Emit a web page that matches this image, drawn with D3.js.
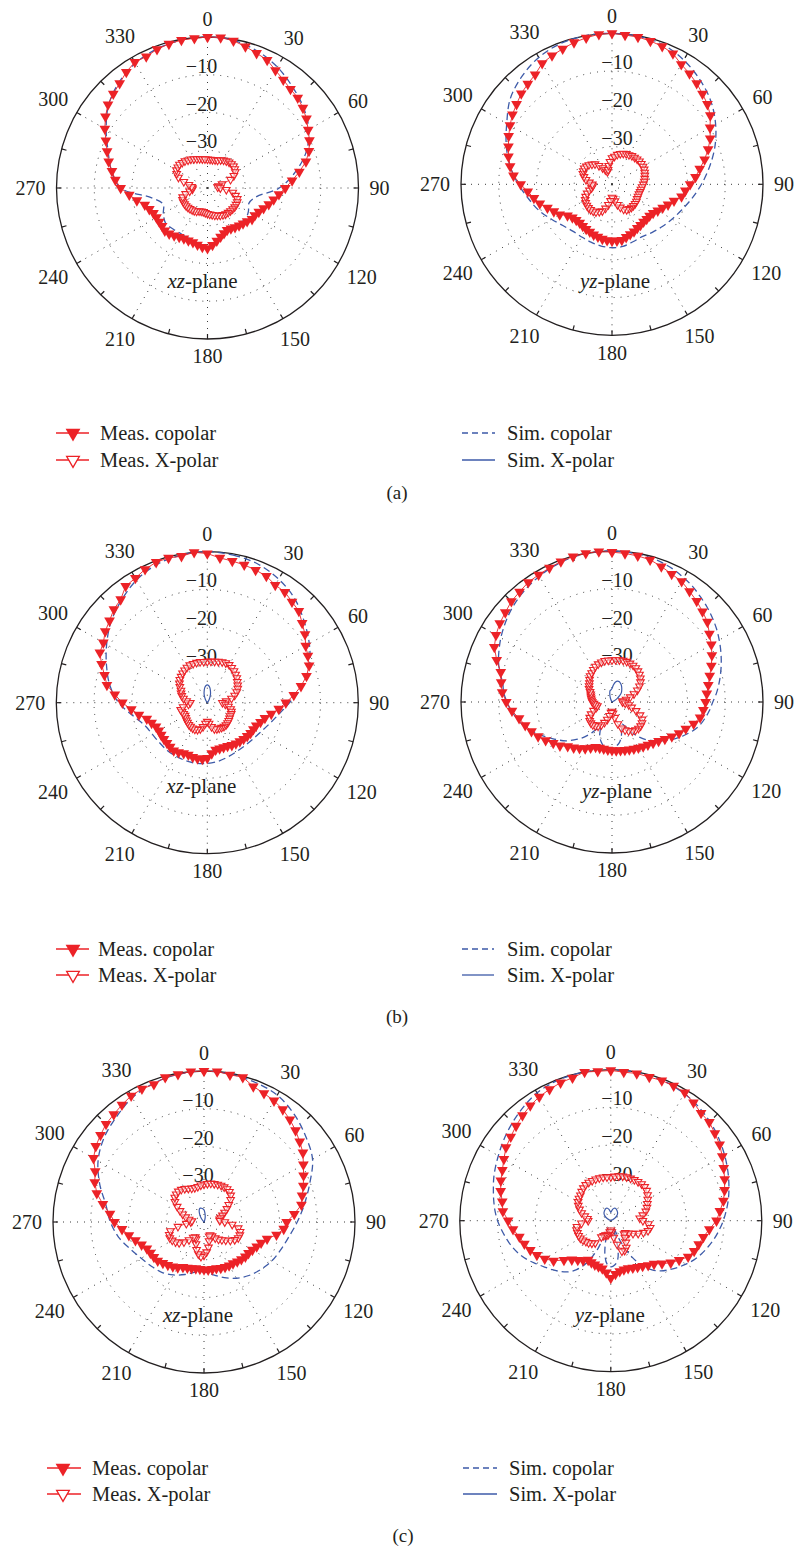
<!DOCTYPE html>
<html>
<head>
<meta charset="utf-8">
<script src="https://cdn.jsdelivr.net/npm/d3@7"></script>
<style>
  html, body { margin: 0; padding: 0; background: #fff; }
  svg { display: block; }
  text { font-family: "Liberation Serif", "Times New Roman", serif; fill: #231f20; }
</style>
</head>
<body>
<svg id="fig" width="795" height="1551"></svg>
<script>
// ---- angular grids (degrees, clockwise from top) ----
const deg5 = [0,5,10,15,20,25,30,35,40,45,50,55,60,65,70,75,80,85,90,95,100,105,110,115,
  120,125,130,135,140,145,150,155,160,165,170,175,180,185,190,195,200,205,210,215,220,225,230,235,
  240,245,250,255,260,265,270,275,280,285,290,295,300,305,310,315,320,325,330,335,340,345,350,355];
const deg10 = [0,10,20,30,40,50,60,70,80,90,100,110,120,130,140,150,160,170,
  180,190,200,210,220,230,240,250,260,270,280,290,300,310,320,330,340,350];
const angleLabels = [0,30,60,90,120,150,180,210,240,270,300,330];
const tickAngles = [0,15,30,45,60,75,90,105,120,135,150,165,180,195,210,225,240,255,270,285,300,315,330,345];
const ringLevels = [-10, -20, -30];
const dbDomain = [-40, 0];

// ---- (a) xz-plane ----
const aXzCo = [
  0,0,-0.4,-1.2,-2,-2.6,-4,-5,-5.8,-6.2,-7,-8,
  -9.2,-10.2,-11.4,-13,-15.3,-17.5,-19.4,-21,-22.2,-23.2,-24.2,-25,
  -25.5,-25.6,-26.3,-26.7,-27,-27.3,-27.6,-27.7,-27.2,-26.6,-25.8,-24.8,
  -24,-24.3,-24.7,-25.1,-25.2,-25.2,-25,-24.6,-24.2,-24,-24.3,-24.4,
  -24.4,-24.2,-23.6,-22.8,-21,-19.2,-17,-15.5,-14.3,-12.9,-11.7,-10.3,
  -8.6,-7,-5.6,-4.7,-3.8,-2.5,-1.5,-1.6,-0.9,-0.5,-0.2,-0.2];
const aXzX = [
  -32.4,-32.4,-32.4,-32.3,-32.2,-31.8,-31.5,-31.3,-31.1,-31,-31,-31.2,
  -31.5,-32.3,-33.5,-36,-37,-37.3,-36.6,-35,-33.2,-32.3,-31.6,-31.3,
  -31.2,-31.2,-31.3,-31.4,-31.5,-31.6,-31.8,-32,-32.3,-32.5,-32.8,-33,
  -33.2,-33.4,-33.6,-33.6,-33.5,-33.2,-33,-32.9,-32.8,-32.7,-32.6,-32.6,
  -32.6,-32.7,-33,-34,-35.2,-36,-36,-35.8,-35,-33.5,-31.8,-31,
  -30.5,-30.4,-30.3,-30.5,-30.7,-31,-31.2,-31.5,-31.8,-32,-32.2,-32.3];
const aXzSimCo = [
  0,-0.3,-1.4,-3,-5,-6.8,
  -9,-12.2,-16.5,-21,-26.8,-28.3,
  -27.5,-27,-27.6,-27.8,-27,-25.5,
  -23.6,-24.5,-25.8,-26,-25.8,-25.5,
  -26.5,-27.5,-25,-17,-14.2,-12,
  -9,-5.8,-3.5,-1.8,-0.8,-0.2];

// ---- (a) yz-plane ----
const aYzCo = [
  0,-0.3,-0.4,-0.7,-1.1,-1.8,-3.3,-4.2,-5.1,-6.1,-7,-8.2,
  -10,-11.3,-12.9,-14.6,-16.4,-17.8,-19.3,-20.5,-21.3,-23,-24.2,-25.2,
  -26,-26.7,-27,-27,-27,-26.8,-26.6,-26.2,-25.9,-25.5,-25,-25,
  -25,-25.1,-25.3,-25.6,-25.8,-26.1,-26.3,-26.5,-26.7,-26.6,-26.3,-25.6,
  -24,-23,-21.8,-20.2,-19,-17.6,-15.8,-13.8,-12.6,-11.6,-10.8,-9.8,
  -8.8,-7.8,-7,-6,-5.3,-4.5,-3,-2.4,-1.8,-1.1,-0.6,-0.1];
const aYzX = [
  -33,-32.6,-32,-31.6,-31.3,-31.1,-31,-30.8,-30.7,-30.6,-30.5,-30.5,
  -30.5,-30.6,-30.8,-31,-31.2,-31.4,-31.7,-32,-32.2,-32.3,-32.4,-32.4,
  -32.3,-32.1,-32,-32,-32,-32.1,-32.2,-32.7,-33.5,-34.4,-35.5,-36.2,
  -36.5,-35.6,-34.5,-33.4,-32.5,-32,-31.5,-31.3,-31.2,-31.2,-31.3,-31.5,
  -31.8,-32.3,-33,-33.8,-34.5,-34.9,-34.8,-34,-33,-32.3,-31.8,-31.6,
  -31.5,-31.7,-32,-32.5,-33,-34,-35,-35.8,-36.5,-36,-35,-34];
const aYzSimCo = [
  0,-0.2,-0.6,-2,-3.8,-5.8,
  -8.3,-11,-13.8,-16.3,-18.5,-20.3,
  -21.6,-22.6,-23.4,-24,-23.8,-23.3,
  -23.2,-23.4,-23.7,-23.9,-23.8,-23,
  -21.5,-19.5,-17.6,-15.2,-12.6,-10.2,
  -7.8,-4.8,-2.8,-1.2,-0.3,0];

// ---- (b) xz-plane ----
const bXzCo = [
  -0.5,-1.5,-1.9,-2.2,-2.6,-3,-4,-4.2,-5.1,-5.7,-7.2,-8.4,
  -9.9,-10.6,-11.3,-12.8,-14.8,-17,-19.2,-21,-22.8,-24.2,-25,-25.7,
  -25.9,-26,-26.2,-26.4,-26.6,-26.8,-27,-27.3,-27.4,-27.4,-27.3,-26.5,
  -25.3,-25,-25,-25.1,-25.3,-25.2,-24.8,-24.5,-24.7,-24.9,-25,-25.1,
  -25.2,-25,-24.3,-23.4,-21.6,-19.8,-17.5,-15.4,-13,-11.8,-10.2,-8.6,
  -8.2,-7,-6.2,-5,-4.3,-2.3,-1.9,-1,-0.4,-0.3,-0.6,0];
const bXzX = [
  -29.1,-29,-28.9,-28.7,-28.5,-28.4,-28.4,-28.7,-29,-29.4,-29.8,-30.3,
  -30.7,-31.1,-31.7,-32.5,-33.5,-35,-36,-35.2,-34.3,-33.6,-33.2,-33,
  -33,-32.8,-32.6,-32.4,-32.3,-32.3,-32.4,-32.5,-32.6,-32.8,-33.5,-34.5,
  -35,-34.5,-33.5,-32.8,-32.4,-32.2,-32.2,-32.3,-32.4,-32.6,-32.8,-33,
  -33.2,-33.1,-32.9,-32.7,-33.5,-35,-35.5,-34.5,-33.6,-33,-32.6,-32.3,
  -31.6,-31,-30.5,-30.2,-29.8,-29.5,-29.2,-29,-29,-29,-29,-29.1];
const bXzSimCo = [
  0,-0.3,-0.9,-2.2,-4,-6.5,
  -8.8,-11.2,-14.3,-18.2,-21,-22.8,
  -24,-24.6,-24.9,-24.9,-24.6,-24.2,
  -23.9,-23.7,-23.6,-23.6,-23.5,-23.5,
  -23.2,-22.4,-20,-16.5,-13.8,-11.6,
  -9.2,-6.7,-4.6,-2.5,-1,-0.3];
const bXzSimX = [
  -35.3,-35.5,-36,-36.8,-37.5,-38.3,-39,-39.6,-40,-40,-40,-40,
  -40,-40,-40,-40,-40,-40,-40,-40,-40,-40,-40,-40,
  -40,-40,-40,-40,-40,-40,-40,-40,-40,-40,-40,-40,
  -40,-40,-40,-40,-40,-40,-40,-40,-40,-40,-40,-40,
  -40,-40,-40,-40,-40,-40,-40,-40,-40,-40,-40,-40,
  -40,-40,-40,-40,-40,-39.6,-39,-38.3,-37.5,-36.8,-36,-35.5];

// ---- (b) yz-plane ----
const bYzCo = [
  -0.3,-0.5,-0.7,-1,-1.8,-2.6,-3.1,-4.2,-5.1,-6.1,-7,-8.5,
  -9.6,-10.8,-12,-13.2,-14.1,-14.8,-15.2,-15.7,-16.3,-17.6,-19.2,-20.4,
  -21.7,-22.9,-23.9,-24.6,-25.2,-25.6,-26,-26.3,-26.6,-26.8,-27,-27.1,
  -27.2,-27.3,-27.4,-27.4,-27.3,-26.6,-25.8,-25,-24.2,-23.4,-22,-21,
  -19.7,-18.4,-17.3,-16.2,-15,-13.4,-12,-10.8,-10.2,-9.5,-7.5,-5.6,
  -4.5,-3.7,-3.1,-2.3,-1.9,-1.3,-1.1,-0.8,-0.4,-0.1,0,0];
const bYzX = [
  -28.9,-28.8,-28.7,-28.6,-28.6,-28.7,-28.8,-29,-29.3,-29.7,-30.2,-30.8,
  -31.6,-32.6,-33.8,-35,-36.2,-37,-37.2,-36.5,-35.5,-34.6,-33.2,-31.8,
  -30.8,-30.3,-30.1,-30.1,-30.3,-30.6,-31.2,-31.8,-32.6,-34,-35.8,-37,
  -37.5,-37.2,-36.3,-35.2,-34.2,-33.3,-32.6,-32.3,-32.1,-32.1,-32.3,-32.8,
  -33.6,-34.6,-35.5,-36,-35.6,-35.2,-34.8,-34.6,-34.4,-34.2,-34,-33.6,
  -33,-32.6,-32.2,-31.6,-31,-30.6,-30.1,-29.6,-29.3,-29.1,-28.9,-28.9];
const bYzSimCo = [
  0,-0.1,-0.2,-0.4,-0.8,-1.3,-2,-2.7,-3.6,-4.4,-5.3,-6.2,
  -7.2,-8.2,-9.2,-10.2,-11.2,-12.2,-13.3,-14.1,-15,-16,-17.4,-19,
  -20.6,-22.3,-24,-25.6,-27.3,-29.4,-31.5,-33.5,-32.5,-30.5,-29,-28.2,
  -27.8,-27.8,-28,-29,-30.5,-32.5,-31.5,-29.5,-27.5,-25.8,-24,-22.5,
  -21,-19.2,-17.5,-15.8,-14.5,-13.2,-12.2,-11.2,-10.6,-9.2,-8,-7,
  -6,-5.1,-4.2,-3.4,-2.7,-2.1,-1.5,-1,-0.6,-0.3,-0.1,0];
const bYzSimX = [
  -36.4,-35.4,-34.6,-34.3,-34.3,-34.6,-35,-35.5,-36,-36.5,-37.3,-38.3,
  -39.3,-40,-40,-40,-40,-40,-40,-40,-40,-40,-40,-40,
  -40,-40,-40,-40,-40,-40,-40,-40,-40,-40,-40,-40,
  -40,-40,-40,-40,-40,-40,-40,-40,-40,-40,-40,-40,
  -40,-40,-40,-40,-40,-40,-40,-40,-40,-40,-40,-40,
  -40,-40,-40,-40,-40,-40,-40,-39.2,-38.5,-37.7,-37,-36.8];

// ---- (c) xz-plane ----
const cXzCo = [
  0,0,-0.4,-0.3,-1.8,-2.4,-2.9,-3.6,-4.6,-5.7,-6.9,-8,
  -9.6,-10.9,-12,-13.1,-13.8,-16,-18.1,-18.8,-20.5,-22.7,-23.9,-24.6,
  -25.2,-25.6,-25.7,-26,-26.3,-26.6,-26.7,-26.8,-27,-27.3,-27.3,-27.3,
  -27.4,-27.5,-27.5,-27.3,-27.1,-26.8,-26.1,-25.6,-25.1,-24.6,-24,-23.8,
  -23.6,-23.3,-22.4,-21.2,-19.8,-18.2,-16.3,-15,-12.8,-10.6,-9.2,-8.2,
  -6.2,-5,-4.2,-3.3,-2.8,-2.1,-1.4,-1.1,-1.2,-0.3,-0.3,0];
const cXzX = [
  -30,-29.8,-29.6,-29.5,-29.4,-29.3,-29.3,-29.3,-29.5,-30,-30.8,-32,
  -33,-34,-34.8,-35.4,-35.8,-35.8,-34.5,-32.5,-30.8,-30.1,-29.9,-30,
  -30.6,-31.5,-32.5,-33.3,-34,-34.8,-35.7,-36.2,-36,-34.8,-33.2,-32,
  -31.2,-30.8,-31.4,-32.4,-33.8,-35,-35.4,-35,-33.8,-32.5,-31.4,-30.8,
  -30.3,-30,-30.2,-30.8,-33,-35.3,-36.5,-36.8,-36,-35,-34,-33,
  -31.8,-30.6,-29.9,-29.6,-29.4,-29.5,-29.8,-30.2,-30.5,-30.6,-30.5,-30.2];
const cXzSimCo = [
  0,-0.2,-0.6,-1.2,-2.8,-4.8,
  -6.8,-10.2,-13,-15.3,-17.2,-18.4,
  -19.3,-20.4,-21.5,-22.8,-24.3,-25.8,
  -26.8,-26.5,-25.2,-23.8,-22.6,-21.8,
  -20.8,-19.2,-17,-15.2,-13.6,-10.6,
  -7.6,-5.4,-3.8,-2,-0.9,-0.3];
const cXzSimX = [
  -36.8,-37.5,-38.2,-38.8,-39.4,-40,-40,-40,-40,-40,-40,-40,
  -40,-40,-40,-40,-40,-40,-40,-40,-40,-40,-40,-40,
  -40,-40,-40,-40,-40,-40,-40,-40,-40,-40,-40,-40,
  -40,-40,-40,-40,-40,-40,-40,-40,-40,-40,-40,-40,
  -40,-40,-40,-40,-40,-40,-40,-40,-40,-40,-40,-40,
  -40,-40,-40,-40,-39.4,-38.6,-37.8,-37,-36.4,-36.2,-36.3,-36.5];

// ---- (c) yz-plane ----
const cYzCo = [
  -0.2,-0.5,-0.4,-0.6,-0.5,-0.6,-0.8,-1.8,-2.8,-3.1,-4,-4.8,
  -5.9,-7,-7.9,-8.8,-9.7,-11,-12,-13.8,-15.1,-15.9,-16.5,-17.4,
  -19.1,-20.6,-22.3,-23.8,-24.6,-25.3,-25.8,-26.2,-26.6,-26.6,-26.4,-25.8,
  -24.8,-26.2,-27.1,-27.4,-27.6,-27.8,-28,-27.2,-26.4,-25.4,-23.8,-21.5,
  -19.8,-18.4,-17.3,-16.3,-15.4,-14,-12.8,-11.3,-10.8,-9.8,-9,-8.3,
  -7.3,-6.1,-5.4,-4.5,-3.6,-2.8,-2.1,-1.6,-1.1,-0.8,0,-0.3];
const cYzX = [
  -28.4,-28.2,-28,-27.8,-27.7,-27.6,-27.5,-27.4,-27.3,-27.3,-27.6,-28.1,
  -28.7,-29.3,-29.8,-30.4,-31.4,-32.3,-31.5,-30,-29.4,-29.8,-30.8,-32,
  -33.2,-34.2,-35,-35,-34.2,-33,-31.8,-31.3,-31.4,-33.5,-35.5,-37,
  -37.5,-37,-36.3,-36,-36,-35.6,-35,-32.8,-32.2,-31.7,-31.4,-31,
  -30.7,-30.6,-30.6,-30.6,-30.9,-32.2,-34,-33.8,-33,-32,-31.2,-30.5,
  -30,-29.7,-29.5,-29.1,-28.7,-28.4,-28.3,-28.3,-28.3,-28.3,-28.3,-28.4];
const cYzSimCo = [
  0,0,-0.1,-0.2,-0.4,-0.7,-1.1,-1.6,-2.2,-2.9,-3.6,-4.4,
  -5.2,-6,-6.8,-7.6,-8.4,-9.3,-10.2,-11.2,-12.2,-13.3,-14.4,-15.6,
  -17,-18.4,-19.8,-21.2,-23,-25.5,-29,-34,-38,-33,-29.5,-28.2,
  -27.8,-28.5,-31,-35,-38,-31.5,-27,-24.2,-22.3,-21,-19.8,-18.6,
  -17.2,-15.6,-14.2,-13,-12,-11,-10,-9.2,-8.5,-7.8,-7,-6.3,
  -5.6,-4.8,-4,-3.2,-2.4,-1.6,-0.9,-0.5,-0.2,-0.1,0,0];
const cYzSimX = [
  -37.8,-37.4,-36.9,-36.6,-36.5,-36.6,-36.8,-37,-37.2,-37.5,-37.9,-38.4,
  -39,-39.6,-40,-40,-40,-40,-40,-40,-40,-40,-40,-40,
  -40,-40,-40,-40,-40,-40,-40,-40,-40,-40,-40,-40,
  -40,-40,-40,-40,-40,-40,-40,-40,-40,-40,-40,-40,
  -40,-40,-40,-40,-40,-40,-40,-40,-40,-40,-40,-39.6,
  -39,-38.4,-37.9,-37.5,-37.2,-37,-36.8,-36.6,-36.5,-36.6,-36.9,-37.4];

const legendMeas = ["Meas. copolar", "Meas. X-polar"];
const legendSim = ["Sim. copolar", "Sim. X-polar"];

// ---- styling ----
const RED = "#ec2227";
const BLUE = "#3d5aa8";
const INK = "#231f20";
const R = 151;

// ---- panel layout ----
const panels = [
  { cx: 207.5, cy: 188,   italic: "xz", lx: -5, ly: 100, rdx: -6, co: aXzCo, xp: aXzX, sco: aXzSimCo, sxp: null },
  { cx: 612,   cy: 184.3, italic: "yz", lx: 3,  ly: 104, rdx: 5,  co: aYzCo, xp: aYzX, sco: aYzSimCo, sxp: null },
  { cx: 207.3, cy: 702.7, italic: "xz", lx: -6, ly: 90,  rdx: -6, co: bXzCo, xp: bXzX, sco: bXzSimCo, sxp: bXzSimX },
  { cx: 612,   cy: 702,   italic: "yz", lx: 5,  ly: 96,  rdx: 5,  co: bYzCo, xp: bYzX, sco: bYzSimCo, sxp: bYzSimX },
  { cx: 204,   cy: 1222,  italic: "xz", lx: -6, ly: 100, rdx: -6, co: cXzCo, xp: cXzX, sco: cXzSimCo, sxp: cXzSimX },
  { cx: 610.8, cy: 1220.7,italic: "yz", lx: -1, ly: 101, rdx: 6,  co: cYzCo, xp: cYzX, sco: cYzSimCo, sxp: cYzSimX }
];

const legends = [
  { cap: "(a)", capX: 397, capY: 499,  rows: [433, 460],   mx: 73, lx: [56, 89], tx: 100, sx: [462, 495], stx: 507 },
  { cap: "(b)", capX: 397, capY: 1023, rows: [949, 975],   mx: 73, lx: [56, 89], tx: 98,  sx: [462, 494], stx: 507 },
  { cap: "(c)", capX: 403, capY: 1542, rows: [1468, 1494], mx: 63, lx: [47, 81], tx: 92,  sx: [463, 497], stx: 509 }
];

const svg = d3.select("#fig");
const rScale = d3.scaleLinear().domain(dbDomain).range([0, R]).clamp(true);
const rad = d => d * Math.PI / 180;
const series = vals => (vals.length === deg5.length ? deg5 : deg10).map((a, i) => ({ a, v: vals[i] }));

const radialLine = curve => d3.lineRadial()
  .angle(d => rad(d.a))
  .radius(d => rScale(d.v))
  .curve(curve);

const triFilled = d3.symbol().type(d3.symbolTriangle).size(50);
const triHollow = d3.symbol().type(d3.symbolTriangle).size(25);

function drawPanel(p) {
  const g = svg.append("g").attr("transform", `translate(${p.cx},${p.cy})`);

  // dotted level rings
  g.append("g").selectAll("circle").data(ringLevels).join("circle")
    .attr("r", d => rScale(d))
    .attr("fill", "none").attr("stroke", "#3a3a3a").attr("stroke-width", 1)
    .attr("stroke-dasharray", "1,6");

  // dotted spokes
  g.append("g").selectAll("line").data(angleLabels).join("line")
    .attr("x1", 0).attr("y1", 0)
    .attr("x2", d => d3.pointRadial(rad(d), R)[0])
    .attr("y2", d => d3.pointRadial(rad(d), R)[1])
    .attr("stroke", "#3a3a3a").attr("stroke-width", 1)
    .attr("stroke-dasharray", "1,6");

  // outer boundary and ticks
  g.append("circle").attr("r", R).attr("fill", "none").attr("stroke", INK).attr("stroke-width", 1.3);
  g.append("g").selectAll("line").data(tickAngles).join("line")
    .attr("x1", d => d3.pointRadial(rad(d), R)[0])
    .attr("y1", d => d3.pointRadial(rad(d), R)[1])
    .attr("x2", d => d3.pointRadial(rad(d), R - 5)[0])
    .attr("y2", d => d3.pointRadial(rad(d), R - 5)[1])
    .attr("stroke", INK).attr("stroke-width", 1.2);

  // angle labels outside the boundary
  const lab = g.append("g").selectAll("text").data(angleLabels).join("text")
    .attr("text-anchor", "middle")
    .attr("font-size", 20)
    .text(d => d);
  lab.each(function (d) {
    const w = this.getComputedTextLength();
    const a = rad(d);
    const off = R + 11 + (w / 2) * Math.abs(Math.sin(a)) + 6.5 * Math.abs(Math.cos(a));
    const [x, y] = d3.pointRadial(a, off);
    d3.select(this).attr("x", x).attr("y", y + 6.8);
  });

  // dB ring labels along the 0° spoke
  g.append("g").selectAll("text").data(ringLevels).join("text")
    .attr("text-anchor", "middle")
    .attr("font-size", 20)
    .attr("x", p.rdx)
    .attr("y", d => -rScale(d) - 2)
    .text(d => "\u2212" + Math.abs(d));

  // simulated copolar (dashed)
  g.append("path")
    .attr("d", radialLine(d3.curveCatmullRomClosed)(series(p.sco)))
    .attr("fill", "none").attr("stroke", BLUE).attr("stroke-width", 1.3)
    .attr("stroke-dasharray", "7,4");

  // simulated cross-polar (solid)
  if (p.sxp) {
    g.append("path")
      .attr("d", radialLine(d3.curveCatmullRomClosed)(series(p.sxp)))
      .attr("fill", "none").attr("stroke", BLUE).attr("stroke-width", 1.2);
  }

  // measured copolar: thin line + filled down-triangles
  const co = series(p.co);
  g.append("path")
    .attr("d", radialLine(d3.curveLinearClosed)(co))
    .attr("fill", "none").attr("stroke", RED).attr("stroke-width", 0.9);
  g.append("g").selectAll("path").data(co).join("path")
    .attr("d", triFilled)
    .attr("transform", d => {
      const [x, y] = d3.pointRadial(rad(d.a), rScale(d.v));
      return `translate(${x},${y}) rotate(180)`;
    })
    .attr("fill", RED);

  // measured cross-polar: thin line + hollow down-triangles
  const xp = series(p.xp);
  g.append("path")
    .attr("d", radialLine(d3.curveLinearClosed)(xp))
    .attr("fill", "none").attr("stroke", RED).attr("stroke-width", 0.8);
  g.append("g").selectAll("path").data(xp).join("path")
    .attr("d", triHollow)
    .attr("transform", d => {
      const [x, y] = d3.pointRadial(rad(d.a), rScale(d.v));
      return `translate(${x},${y}) rotate(180)`;
    })
    .attr("fill", "#fff").attr("fill-opacity", 0.5)
    .attr("stroke", RED).attr("stroke-width", 1.1);

  // plane label
  const t = g.append("text")
    .attr("x", p.lx).attr("y", p.ly)
    .attr("text-anchor", "middle")
    .attr("font-size", 21);
  t.append("tspan").attr("font-style", "italic").text(p.italic);
  t.append("tspan").text("-plane");
}

panels.forEach(drawPanel);

// ---- legends and captions ----
const legFilled = d3.symbol().type(d3.symbolTriangle).size(95);
const legHollow = d3.symbol().type(d3.symbolTriangle).size(70);

legends.forEach(L => {
  const g = svg.append("g");
  L.rows.forEach((y, i) => {
    g.append("line").attr("x1", L.lx[0]).attr("x2", L.lx[1]).attr("y1", y).attr("y2", y)
      .attr("stroke", RED).attr("stroke-width", 1.4);
    g.append("path")
      .attr("d", i === 0 ? legFilled : legHollow)
      .attr("transform", `translate(${L.mx},${y}) rotate(180)`)
      .attr("fill", i === 0 ? RED : "#fff")
      .attr("stroke", RED).attr("stroke-width", i === 0 ? 0 : 1.3);
    g.append("text").attr("x", L.tx).attr("y", y + 6.5).attr("font-size", 20.5).text(legendMeas[i]);

    g.append("line").attr("x1", L.sx[0]).attr("x2", L.sx[1]).attr("y1", y).attr("y2", y)
      .attr("stroke", BLUE).attr("stroke-width", 1.3)
      .attr("stroke-dasharray", i === 0 ? "6,4" : null);
    g.append("text").attr("x", L.stx).attr("y", y + 6.5).attr("font-size", 20.5).text(legendSim[i]);
  });
  g.append("text").attr("x", L.capX).attr("y", L.capY).attr("text-anchor", "middle")
    .attr("font-size", 19).text(L.cap);
});
</script>
</body>
</html>
